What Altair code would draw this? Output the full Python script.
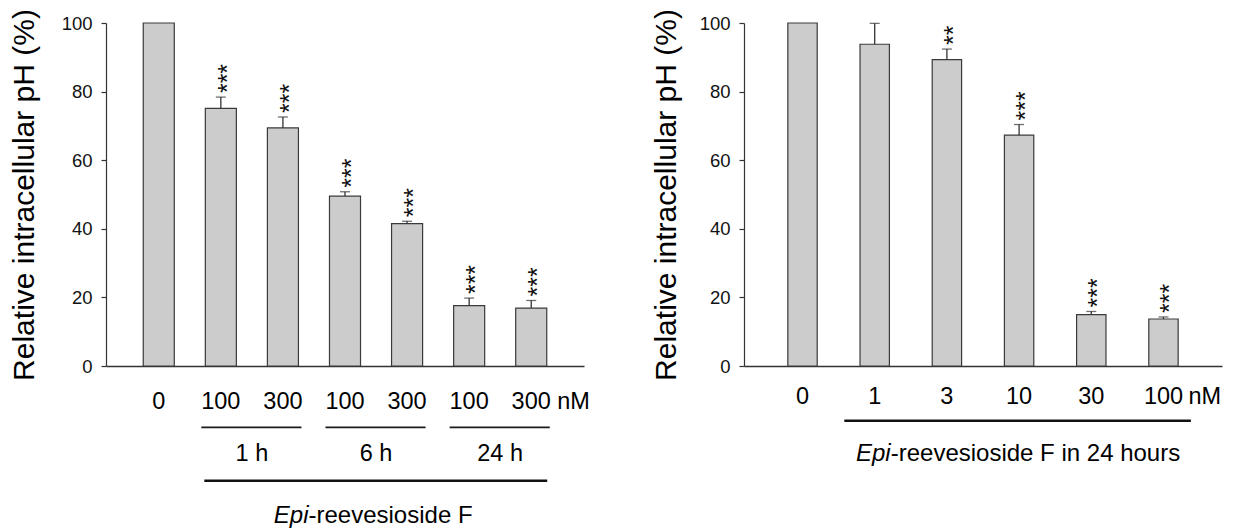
import altair as alt
import pandas as pd

FONT = "Liberation Sans"

# ---------------- data ----------------
left_categories = ["0", "100|1 h", "300|1 h", "100|6 h", "300|6 h", "100|24 h", "300|24 h"]
left_tick_labels = ["0", "100", "300", "100", "300", "100", "300"]
left_values = [100.0, 75.1, 69.4, 49.5, 41.5, 17.6, 16.9]
left_errors = [0.0, 3.3, 3.2, 1.3, 0.7, 2.2, 2.2]
left_sig = ["", "***", "***", "***", "***", "***", "***"]
left_group_labels = ["1 h", "6 h", "24 h"]
left_group_start = ["100|1 h", "100|6 h", "100|24 h"]
left_group_end = ["300|1 h", "300|6 h", "300|24 h"]
left_caption_italic = "Epi"
left_caption_rest = "-reevesioside F"

right_categories = ["0", "1", "3", "10", "30", "100"]
right_tick_labels = ["0", "1", "3", "10", "30", "100"]
right_values = [100.0, 93.8, 89.3, 67.3, 15.0, 13.7]
right_errors = [0.0, 6.1, 3.1, 3.1, 0.9, 0.6]
right_sig = ["", "", "**", "***", "***", "***"]
right_caption_italic = "Epi"
right_caption_rest = "-reevesioside F in 24 hours"

y_ticks = [0, 20, 40, 60, 80, 100]
y_title = "Relative intracellular pH (%)"
unit_label = "nM"

W, H = 478, 343
LINE = "#333333"


def panel(cats, tick_labels, vals, errs, sig, pad_inner, pad_outer, title_pad,
          tick_y, unit_dx, captions_y, caption_x, caption_italic, caption_rest,
          groups=None, long_line=None):
    df = pd.DataFrame({"cat": cats, "label": tick_labels, "value": vals,
                       "err": errs, "sig": sig})
    df["top"] = df["value"] + df["err"]
    xscale = alt.Scale(domain=cats, paddingInner=pad_inner, paddingOuter=pad_outer)
    yscale = alt.Scale(domain=[0, 100], nice=False)

    x_main = alt.X("cat:N", scale=xscale,
                   axis=alt.Axis(labels=False, ticks=False, title=None,
                                 domainColor=LINE, domainWidth=1.3))
    x_plain = alt.X("cat:N", scale=xscale)
    y_main = alt.Y("value:Q", scale=yscale,
                   axis=alt.Axis(values=y_ticks, tickSize=5, tickColor=LINE,
                                 tickWidth=1.2, domainColor=LINE, domainWidth=1.2,
                                 labelFont=FONT, labelFontSize=18.5, labelColor="#111",
                                 labelPadding=9, grid=False, title=y_title,
                                 titleFont=FONT, titleFontSize=30,
                                 titleFontWeight="normal", titleColor="#000",
                                 titlePadding=title_pad))

    base = alt.Chart(df)
    bars = base.mark_bar(fill="#cccccc", stroke="#3a3a3a", strokeWidth=1.2).encode(
        x=x_main, y=y_main)
    eb = base.transform_filter("datum.err > 0")
    err_rule = eb.mark_rule(color=LINE, strokeWidth=1.3).encode(
        x=x_plain, y=alt.Y("value:Q", scale=yscale), y2="top:Q")
    err_cap = eb.mark_tick(color=LINE, thickness=1.3, size=10).encode(
        x=x_plain, y=alt.Y("top:Q", scale=yscale))
    stars = base.mark_text(angle=270, align="left", baseline="alphabetic",
                           dx=4, dy=15, fontSize=25, font=FONT, color="#111").encode(
        x=x_plain, y=alt.Y("top:Q", scale=yscale), text="sig:N")
    ticks = base.mark_text(fontSize=23.5, font=FONT, baseline="middle", color="#000").encode(
        x=x_plain, y=alt.value(tick_y), text="label:N")

    unit_df = pd.DataFrame({"cat": [cats[-1]], "text": [unit_label]})
    unit = alt.Chart(unit_df).mark_text(fontSize=23.5, font=FONT, baseline="middle",
                                        align="left", dx=unit_dx, color="#000").encode(
        x=x_plain, y=alt.value(tick_y), text="text:N")

    layers = [bars, err_rule, err_cap, stars, ticks, unit]

    if groups is not None:
        g_labels, g_start, g_end, g_line_y, g_text_y, g_half_gap = groups
        gdf = pd.DataFrame({"start": g_start, "end": g_end, "label": g_labels})
        glines = alt.Chart(gdf).mark_rule(color="#1a1a1a", strokeWidth=1.8,
                                          xOffset=-4, x2Offset=3).encode(
            x=alt.X("start:N", scale=xscale, bandPosition=0),
            x2=alt.X2("end", bandPosition=1),
            y=alt.value(g_line_y))
        gtext = alt.Chart(gdf).mark_text(
            fontSize=23.5, font=FONT, baseline="middle", color="#000", dx=g_half_gap).encode(
            x=alt.X("start:N", scale=xscale, bandPosition=1),
            y=alt.value(g_text_y), text="label:N")
        layers += [glines, gtext]

    ls, le, lo0, lo1, ly = long_line
    ldf = pd.DataFrame({"start": [ls], "end": [le]})
    lline = alt.Chart(ldf).mark_rule(color="#111", strokeWidth=2.6,
                                     xOffset=lo0, x2Offset=lo1).encode(
        x=alt.X("start:N", scale=xscale, bandPosition=0),
        x2=alt.X2("end", bandPosition=1),
        y=alt.value(ly))
    layers.append(lline)

    cap_df = pd.DataFrame({"a": [caption_italic], "b": [caption_rest]})
    cap_i = alt.Chart(cap_df).mark_text(fontSize=24, font=FONT, fontStyle="italic",
                                        align="right", baseline="middle", color="#000").encode(
        x=alt.value(caption_x), y=alt.value(captions_y), text="a:N")
    cap_r = alt.Chart(cap_df).mark_text(fontSize=24, font=FONT, align="left",
                                        baseline="middle", color="#000").encode(
        x=alt.value(caption_x), y=alt.value(captions_y), text="b:N")
    layers += [cap_i, cap_r]

    return alt.layer(*layers).properties(width=W, height=H)


left = panel(left_categories, left_tick_labels, left_values, left_errors, left_sig,
             pad_inner=0.5, pad_outer=0.6, title_pad=22,
             tick_y=378.5, unit_dx=26, captions_y=493, caption_x=202.5,
             caption_italic=left_caption_italic, caption_rest=left_caption_rest,
             groups=(left_group_labels, left_group_start, left_group_end, 404.3, 431.3, 15.5),
             long_line=(left_categories[1], left_categories[-1], -1, 0.5, 457.7))

right = panel(right_categories, right_tick_labels, right_values, right_errors, right_sig,
              pad_inner=0.593, pad_outer=0.607, title_pad=18,
              tick_y=373.5, unit_dx=25, captions_y=431.2, caption_x=146.7,
              caption_italic=right_caption_italic, caption_rest=right_caption_rest,
              groups=None,
              long_line=(right_categories[1], right_categories[-1], -15.7, 12.7, 397.7))

chart = alt.hconcat(left, right, spacing=160, bounds="flush").properties(
    padding={"left": 9, "top": 8, "right": 5, "bottom": 0}
).configure_view(stroke=None)

chart.save("out.html", embed_options={"renderer": "svg", "actions": False})
